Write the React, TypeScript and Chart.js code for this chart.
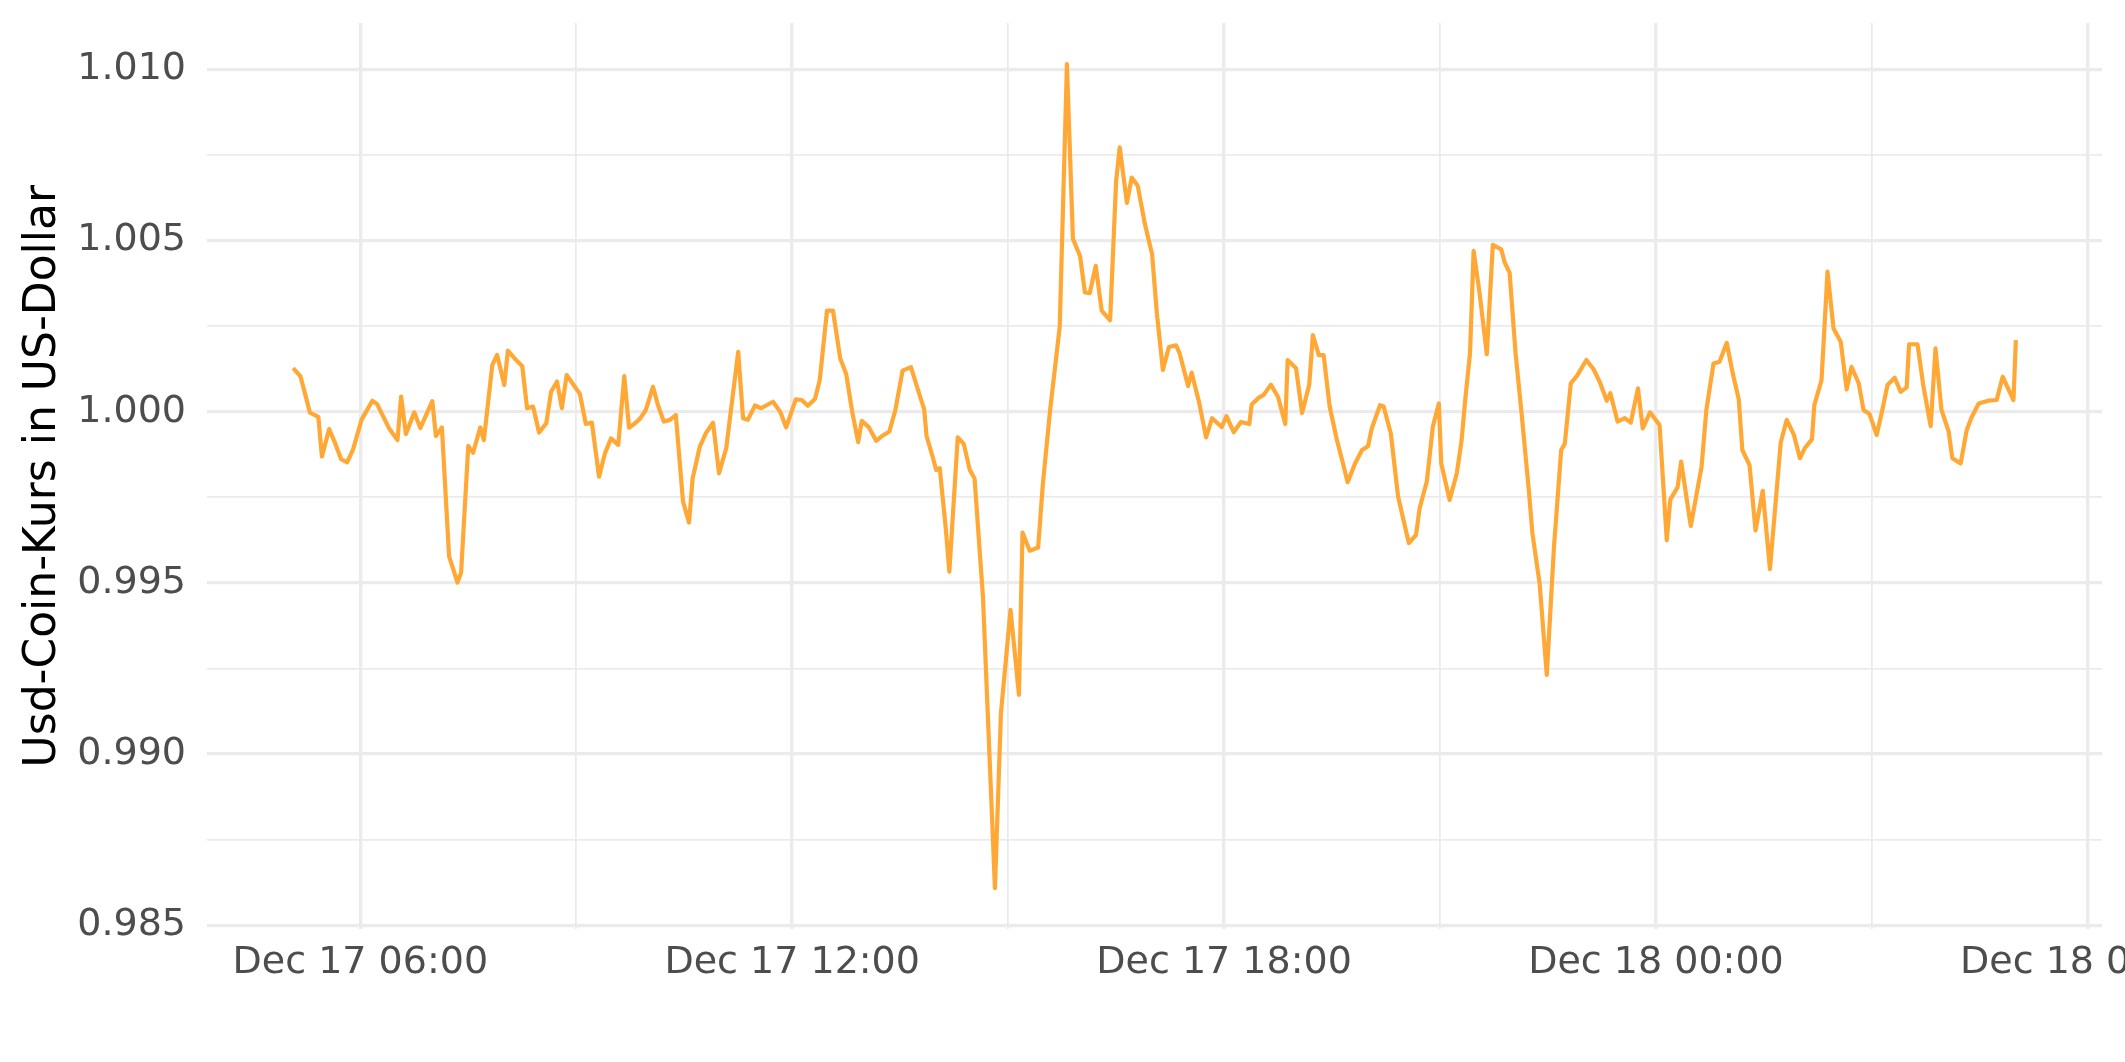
import React, { useEffect, useRef } from 'react';
import { Chart, registerables } from 'chart.js';

Chart.register(...registerables);

// Time of each observation, minutes after Dec 17 00:00
const timeMinutes = [
  304, 310, 313, 318, 325, 328, 334, 339, 344, 349, 354, 361, 370, 374, 384, 391, 394, 398, 405, 410,
  420, 423, 428, 434, 441, 444, 450, 454, 460, 463, 470, 474, 480, 483, 489, 495, 499, 504, 509, 515,
  519, 524, 528, 532, 543, 548, 553, 559, 564, 569, 575, 580, 584, 589, 593, 598, 604, 608, 613, 618,
  623, 629, 634, 637, 643, 648, 654, 659, 665, 675, 679, 683, 689, 694, 704, 710, 715, 723, 728, 733,
  739, 743, 749, 754, 760, 765, 770, 775, 778, 784, 790, 795, 801, 806, 812, 819, 824, 830, 832, 837,
  840, 843, 848, 851, 858, 863, 868, 872, 879, 889, 894, 902, 909, 912, 918, 925, 929, 935, 943, 949,
  954, 960, 964, 968, 973, 978, 985, 990, 993, 999, 1003, 1008, 1014, 1020, 1024, 1029, 1034, 1040, 1043, 1050,
  1053, 1059, 1065, 1070, 1078, 1082, 1088, 1094, 1101, 1103, 1109, 1113, 1119, 1125, 1131, 1133, 1140, 1145, 1151, 1154,
  1159, 1163, 1168, 1174, 1179, 1183, 1189, 1195, 1200, 1203, 1210, 1213, 1219, 1225, 1234, 1240, 1243, 1249, 1254, 1259,
  1261, 1268, 1274, 1278, 1281, 1285, 1288, 1293, 1299, 1304, 1311, 1314, 1318, 1323, 1328, 1334, 1337, 1343, 1349, 1355,
  1361, 1364, 1369, 1374, 1382, 1388, 1393, 1399, 1402, 1408, 1414, 1419, 1425, 1429, 1435, 1443, 1449, 1452, 1458, 1461,
  1469, 1478, 1482, 1488, 1493, 1499, 1504, 1509, 1512, 1518, 1523, 1529, 1535, 1544, 1549, 1555, 1560, 1564, 1570, 1572,
  1578, 1583, 1588, 1594, 1599, 1603, 1609, 1613, 1618, 1624, 1629, 1633, 1639, 1644, 1649, 1651, 1658, 1663, 1669, 1673,
  1678, 1684, 1687, 1694, 1699, 1703, 1709, 1717, 1724, 1729, 1738, 1740,
];

// USD Coin price in US dollars
const priceUsd = [
  1.00127, 1.00104, 1.00065, 0.99997, 0.99985, 0.99869, 0.99949, 0.99908, 0.99861, 0.99852, 0.9989, 0.99976, 1.00032, 1.00022, 0.99951, 0.99917, 1.00044, 0.99935, 0.99998, 0.99952,
  1.00031, 0.99929, 0.99954, 0.99577, 0.99501, 0.9953, 0.999, 0.9988, 0.99954, 0.99917, 1.00136, 1.00166, 1.00078, 1.00178, 1.00154, 1.00133, 1.0001, 1.00015, 0.99939, 0.99966,
  1.00058, 1.00088, 1.0001, 1.00107, 1.00052, 0.99964, 0.99968, 0.9981, 0.99879, 0.99922, 0.99903, 1.00104, 0.99953, 0.99966, 0.99979, 1.00005, 1.00073, 1.0002, 0.99971, 0.99976,
  0.9999, 0.99737, 0.99676, 0.99805, 0.99898, 0.99937, 0.99968, 0.9982, 0.99893, 1.00175, 0.99981, 0.99976, 1.00018, 1.0001, 1.00029, 1.0, 0.99954, 1.00036, 1.00034, 1.00017,
  1.00037, 1.00093, 1.00295, 1.00295, 1.00156, 1.0011, 1.0, 0.99911, 0.99973, 0.99954, 0.99915, 0.99929, 0.99942, 1.00005, 1.0012, 1.0013, 1.00073, 1.00007, 0.99929, 0.99869,
  0.9983, 0.99835, 0.99659, 0.99533, 0.99925, 0.99906, 0.9983, 0.99805, 0.9946, 0.98608, 0.99119, 0.99421, 0.99173, 0.99647, 0.99594, 0.99603, 0.99791, 1.00005, 1.00248, 1.01015,
  1.00505, 1.00454, 1.00348, 1.00346, 1.00426, 1.00295, 1.00267, 1.00673, 1.00772, 1.0061, 1.00684, 1.0066, 1.00548, 1.0046, 1.00286, 1.00122, 1.00189, 1.00194, 1.0017, 1.00075,
  1.00114, 1.0003, 0.99925, 0.99981, 0.99955, 0.99987, 0.9994, 0.9997, 0.99964, 1.00021, 1.00041, 1.00049, 1.00079, 1.00043, 0.99964, 1.00151, 1.00127, 0.99996, 1.00079, 1.00224,
  1.00165, 1.00165, 1.00015, 0.99918, 0.9985, 0.99794, 0.99847, 0.99888, 0.99899, 0.9995, 1.00019, 1.00015, 0.99936, 0.99753, 0.99616, 0.9964, 0.99718, 0.99796, 0.99956, 1.00024,
  0.99849, 0.99742, 0.9982, 0.99917, 1.00034, 1.0017, 1.0047, 1.00346, 1.00168, 1.00487, 1.00474, 1.00435, 1.00406, 1.0017, 0.99995, 0.99771, 0.99645, 0.99499, 0.99231, 0.99606,
  0.99888, 0.99906, 1.00083, 1.00104, 1.00151, 1.00124, 1.00088, 1.00032, 1.00054, 0.99971, 0.99981, 0.99968, 1.00068, 0.99951, 0.99998, 0.99961, 0.99625, 0.99744, 0.99779, 0.99854,
  0.99666, 0.99839, 1.00005, 1.00141, 1.00146, 1.00201, 1.00112, 1.00036, 0.99888, 0.99844, 0.99653, 0.99769, 0.9954, 0.9991, 0.99976, 0.99932, 0.99864, 0.99893, 0.99919, 1.00019,
  1.00092, 1.00409, 1.00243, 1.00204, 1.00065, 1.00131, 1.00083, 1.00005, 0.99993, 0.99932, 1.0001, 1.00078, 1.00099, 1.00058, 1.00071, 1.00197, 1.00197, 1.00073, 0.99958, 1.00185,
  1.00005, 0.99942, 0.99864, 0.99849, 0.99946, 0.99983, 1.00024, 1.00032, 1.00034, 1.00102, 1.00034, 1.00209,
];

// Grid / tick positions
const xTickMinutes = [360, 540, 720, 900, 1080, 1260, 1440, 1620, 1800];
const xMajorEvery = 360;
const yTickValues = [0.985, 0.9875, 0.99, 0.9925, 0.995, 0.9975, 1.0, 1.0025, 1.005, 1.0075, 1.01];
const yAxisTitle = 'Usd-Coin-Kurs in US-Dollar';
const monthLabel = 'Dec';
const firstDay = 17;

const FONT = "'DejaVu Sans', sans-serif";
const GRID = '#EBEBEB';
const LINE = '#FFA836';

const isMajorX = (v: number) => v % xMajorEvery === 0;
const isMajorY = (v: number) => Math.abs(v * 200 - Math.round(v * 200)) < 1e-6;

function fmtTime(m: number): string {
  const day = firstDay + Math.floor(m / 1440);
  const mm = m % 1440;
  const hh = Math.floor(mm / 60);
  const mi = mm % 60;
  return `${monthLabel} ${day} ${String(hh).padStart(2, '0')}:${String(mi).padStart(2, '0')}`;
}

export default function App() {
  const ref = useRef<HTMLCanvasElement | null>(null);

  useEffect(() => {
    document.body.style.margin = '0';
    const canvas = ref.current;
    if (!canvas) return;

    const xMin0 = Math.min(...timeMinutes);
    const xMax0 = Math.max(...timeMinutes);
    const yMin0 = Math.min(...priceUsd);
    const yMax0 = Math.max(...priceUsd);
    const xPad = (xMax0 - xMin0) * 0.05;
    const yPad = (yMax0 - yMin0) * 0.05;
    const xMin = xMin0 - xPad;
    const xMax = xMax0 + xPad;
    const yMin = yMin0 - yPad;
    const yMax = yMax0 + yPad;

    const points = timeMinutes.map((t, i) => ({ x: t, y: priceUsd[i] }));

    const chart = new Chart(canvas, {
      type: 'line',
      data: {
        datasets: [
          {
            data: points,
            borderColor: LINE,
            borderWidth: 4.2,
            pointRadius: 0,
            pointHoverRadius: 0,
            tension: 0,
            fill: false,
            borderJoinStyle: 'round',
            borderCapStyle: 'butt',
          },
        ],
      },
      options: {
        animation: false,
        responsive: false,
        devicePixelRatio: 1,
        parsing: false,
        normalized: true,
        layout: { padding: { top: 23, right: 23, left: 0, bottom: 0 } },
        plugins: {
          legend: { display: false },
          tooltip: { enabled: false },
        },
        events: [],
        scales: {
          x: {
            type: 'linear',
            min: xMin,
            max: xMax,
            border: { display: false },
            grid: {
              drawTicks: false,
              color: GRID,
              lineWidth: (ctx: any) => (ctx.tick && isMajorX(ctx.tick.value) ? 3.4 : 1.8),
            },
            ticks: {
              autoSkip: false,
              maxRotation: 0,
              minRotation: 0,
              padding: 11,
              color: '#4D4D4D',
              font: { family: FONT, size: 38 },
              callback: (v: any) => (isMajorX(Number(v)) ? fmtTime(Number(v)) : ''),
            },
            afterBuildTicks: (scale: any) => {
              scale.ticks = xTickMinutes.filter((v) => v >= xMin && v <= xMax).map((v) => ({ value: v }));
            },
            afterFit: (scale: any) => {
              scale.height = 1062 - 929.4;
              scale.paddingLeft = 0;
              scale.paddingRight = 0;
            },
          },
          y: {
            type: 'linear',
            min: yMin,
            max: yMax,
            border: { display: false },
            grid: {
              drawTicks: false,
              color: GRID,
              lineWidth: (ctx: any) => (ctx.tick && isMajorY(ctx.tick.value) ? 3.2 : 1.8),
            },
            ticks: {
              autoSkip: false,
              padding: 21,
              color: '#4D4D4D',
              font: { family: FONT, size: 38 },
              callback: (v: any) => (isMajorY(Number(v)) ? Number(v).toFixed(3) : ''),
            },
            title: {
              display: true,
              text: yAxisTitle,
              color: '#000000',
              font: { family: FONT, size: 44 },
              padding: { top: 17, bottom: 0 },
            },
            afterBuildTicks: (scale: any) => {
              scale.ticks = yTickValues.filter((v) => v >= yMin && v <= yMax).map((v) => ({ value: v }));
            },
            afterFit: (scale: any) => {
              scale.width = 207;
              scale.paddingTop = 0;
              scale.paddingBottom = 0;
            },
          },
        },
      } as any,
    });

    return () => chart.destroy();
  }, []);

  return (
    <div style={{ width: 2125, height: 1062, background: '#fff' }}>
      <canvas ref={ref} width={2125} height={1062} style={{ display: 'block', width: 2125, height: 1062 }} />
    </div>
  );
}
